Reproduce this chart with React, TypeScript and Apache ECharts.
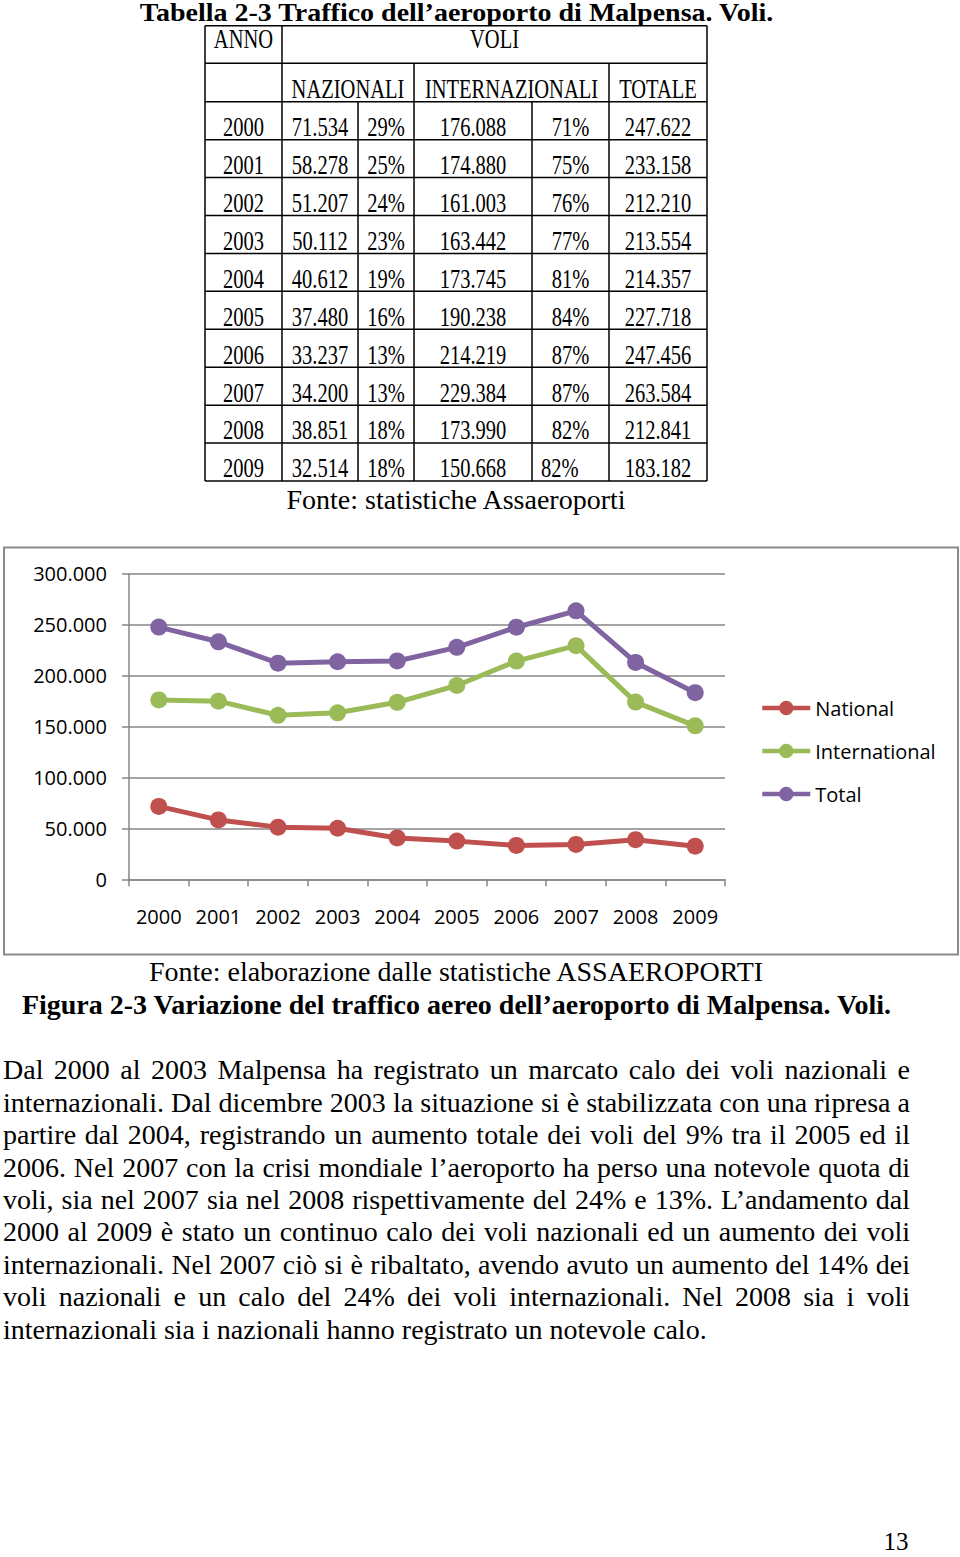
import React, { useEffect, useRef } from "react";
import * as echarts from "echarts";

const years = ["2000", "2001", "2002", "2003", "2004", "2005", "2006", "2007", "2008", "2009"];
const national = [71534, 58278, 51207, 50112, 40612, 37480, 33237, 34200, 38851, 32514];
const nationalPct = ["29%", "25%", "24%", "23%", "19%", "16%", "13%", "13%", "18%", "18%"];
const international = [176088, 174880, 161003, 163442, 173745, 190238, 214219, 229384, 173990, 150668];
const internationalPct = ["71%", "75%", "76%", "77%", "81%", "84%", "87%", "87%", "82%", "82%"];
const total = [247622, 233158, 212210, 213554, 214357, 227718, 247456, 263584, 212841, 183182];
const seriesNames = ["National", "International", "Total"];
const seriesColors = ["#C0504D", "#9BBB59", "#8064A2"];

const tableTitle = "Tabella 2-3 Traffico dell\u2019aeroporto di Malpensa. Voli.";
const tableSource = "Fonte: statistiche Assaeroporti";
const chartSource = "Fonte: elaborazione dalle statistiche ASSAEROPORTI";
const figureCaption = "Figura 2-3 Variazione del traffico aereo dell\u2019aeroporto di Malpensa. Voli.";
const paragraphLines = [
  "Dal 2000 al 2003 Malpensa ha registrato un marcato calo dei voli nazionali e",
  "internazionali. Dal dicembre 2003 la situazione si \u00e8 stabilizzata con una ripresa a",
  "partire dal 2004, registrando un aumento totale dei voli del 9% tra il 2005 ed il",
  "2006. Nel 2007 con la crisi mondiale l\u2019aeroporto ha perso una notevole quota di",
  "voli, sia nel 2007 sia nel 2008 rispettivamente del 24% e 13%. L\u2019andamento dal",
  "2000 al 2009 \u00e8 stato un continuo calo dei voli nazionali ed un aumento dei voli",
  "internazionali. Nel 2007 ci\u00f2 si \u00e8 ribaltato, avendo avuto un aumento del 14% dei",
  "voli nazionali e un calo del 24% dei voli internazionali. Nel 2008 sia i voli",
  "internazionali sia i nazionali hanno registrato un notevole calo.",
];
const pageNumber = "13";

const fmt = (n: number) => String(n).replace(/\B(?=(\d{3})+(?!\d))/g, ".");

const SERIF = "Liberation Serif";
const SANS = "Open Sans";

function buildGraphics(): any[] {
  const els: any[] = [];
  const txt = (text: string, x: number, y: number, size: number, opts: any = {}) => {
    els.push({
      type: "text",
      x,
      y,
      scaleX: opts.scaleX ?? 1,
      silent: true,
      style: {
        text,
        fill: "#000",
        fontSize: size,
        fontFamily: opts.family ?? SERIF,
        fontWeight: opts.bold ? "bold" : "normal",
        textAlign: opts.align ?? "center",
        textVerticalAlign: "middle",
      },
    });
  };
  const ln = (x1: number, y1: number, x2: number, y2: number, stroke = "#000", w = 1.5) => {
    els.push({ type: "line", silent: true, shape: { x1, y1, x2, y2 }, style: { stroke, lineWidth: w } });
  };

  // Title
  txt(tableTitle, 456.5, 13, 25, { bold: true, scaleX: 1.12 });

  // Table grid
  const L = 205, R = 707;
  const cols = [205, 282, 358, 414, 532, 609, 707];
  const top = 25.7, h1 = 63.3, h2 = 101.7, bottom = 481;
  const rowH = (bottom - h2) / years.length;
  ln(L, top, R, top);
  ln(L, h1, R, h1);
  for (let i = 0; i <= years.length; i++) ln(L, h2 + i * rowH, R, h2 + i * rowH);
  ln(L, top, L, bottom);
  ln(R, top, R, bottom);
  ln(282, top, 282, bottom);
  ln(414, h1, 414, bottom);
  ln(609, h1, 609, bottom);
  ln(358, h2, 358, bottom);
  ln(532, h2, 532, bottom);

  const TS = 27, SX = 0.76;
  txt("ANNO", 243.5, 39, TS, { scaleX: SX });
  txt("VOLI", 494.5, 39, TS, { scaleX: SX });
  txt("NAZIONALI", 348, 89, TS, { scaleX: SX });
  txt("INTERNAZIONALI", 511.5, 89, TS, { scaleX: SX });
  txt("TOTALE", 658, 89, TS, { scaleX: SX });
  years.forEach((yr, i) => {
    const cy = h2 + i * rowH + 25.3;
    const cells = [yr, fmt(national[i]), nationalPct[i], fmt(international[i]), internationalPct[i], fmt(total[i])];
    cells.forEach((c, j) => {
      const cx = (cols[j] + cols[j + 1]) / 2;
      if (j === 4 && i === years.length - 1) {
        txt(c, 541, cy, TS, { scaleX: SX, align: "left" });
      } else {
        txt(c, cx, cy, TS, { scaleX: SX });
      }
    });
  });
  txt(tableSource, 456, 499, 28);

  // Chart frame
  els.push({
    type: "rect",
    silent: true,
    z: -1,
    shape: { x: 4, y: 547.5, width: 954, height: 407 },
    style: { fill: "none", stroke: "#8a8a8a", lineWidth: 2 },
  });

  txt(chartSource, 456, 971.5, 28);
  txt(figureCaption, 456.5, 1004.5, 28, { bold: true });

  // Justified paragraph
  const PF = 28;
  const canvas = document.createElement("canvas");
  const ctx = canvas.getContext("2d") as CanvasRenderingContext2D;
  ctx.font = `${PF}px "${SERIF}"`;
  const PL = 3, PR = 910;
  const spaceW = ctx.measureText(" ").width;
  paragraphLines.forEach((line, li) => {
    const words = line.split(" ");
    const widths = words.map((w) => ctx.measureText(w).width);
    const sum = widths.reduce((a, b) => a + b, 0);
    const last = li === paragraphLines.length - 1;
    const gap = last || words.length < 2 ? spaceW : (PR - PL - sum) / (words.length - 1);
    const cy = 1079.3 + li * 32.4 - 9.4;
    let x = PL;
    words.forEach((w, wi) => {
      txt(w, x, cy, PF, { align: "left" });
      x += widths[wi] + gap;
    });
  });

  txt(pageNumber, 896, 1541, 25);
  return els;
}

export default function App() {
  const ref = useRef<HTMLDivElement>(null);
  useEffect(() => {
    document.body.style.margin = "0";
    if (!ref.current) return;
    const chart = echarts.init(ref.current, undefined, { renderer: "svg" });
    const axisGray = "#868686";
    const series = [national, international, total].map((d, i) => ({
      name: seriesNames[i],
      type: "line",
      data: d,
      symbol: "circle",
      symbolSize: 17,
      color: seriesColors[i],
      itemStyle: { color: seriesColors[i] },
      lineStyle: { color: seriesColors[i], width: 5 },
    }));
    chart.setOption({
      animation: false,
      backgroundColor: "#fff",
      grid: { left: 129, right: 235, top: 573.7, bottom: 677.7, containLabel: false },
      legend: {
        orient: "vertical",
        left: 760,
        top: 698,
        padding: 0,
        itemWidth: 48,
        itemHeight: 18,
        itemGap: 23,
        lineStyle: { width: 4.5 },
        textStyle: { fontFamily: SANS, fontSize: 20, color: "#000" },
        data: seriesNames,
      },
      xAxis: {
        type: "category",
        data: years,
        boundaryGap: true,
        axisLine: { lineStyle: { color: axisGray, width: 1.5 } },
        axisTick: { show: true, length: 7, alignWithLabel: false, lineStyle: { color: axisGray, width: 1.5 } },
        axisLabel: { color: "#000", fontFamily: SANS, fontSize: 20, margin: 27 },
      },
      yAxis: {
        type: "value",
        min: 0,
        max: 300000,
        interval: 50000,
        axisLine: { show: true, lineStyle: { color: axisGray, width: 1.5 } },
        axisTick: { show: true, length: 7, lineStyle: { color: axisGray, width: 1.5 } },
        splitLine: { show: true, lineStyle: { color: axisGray, width: 1.5 } },
        axisLabel: {
          color: "#000",
          fontFamily: SANS,
          fontSize: 20,
          margin: 22,
          formatter: (v: number) => fmt(v),
        },
      },
      series,
      graphic: { elements: buildGraphics() },
    });
    return () => chart.dispose();
  }, []);
  return (
    <div
      ref={ref}
      style={{ position: "absolute", left: 0, top: 0, width: 960, height: 1557, background: "#fff" }}
    />
  );
}
